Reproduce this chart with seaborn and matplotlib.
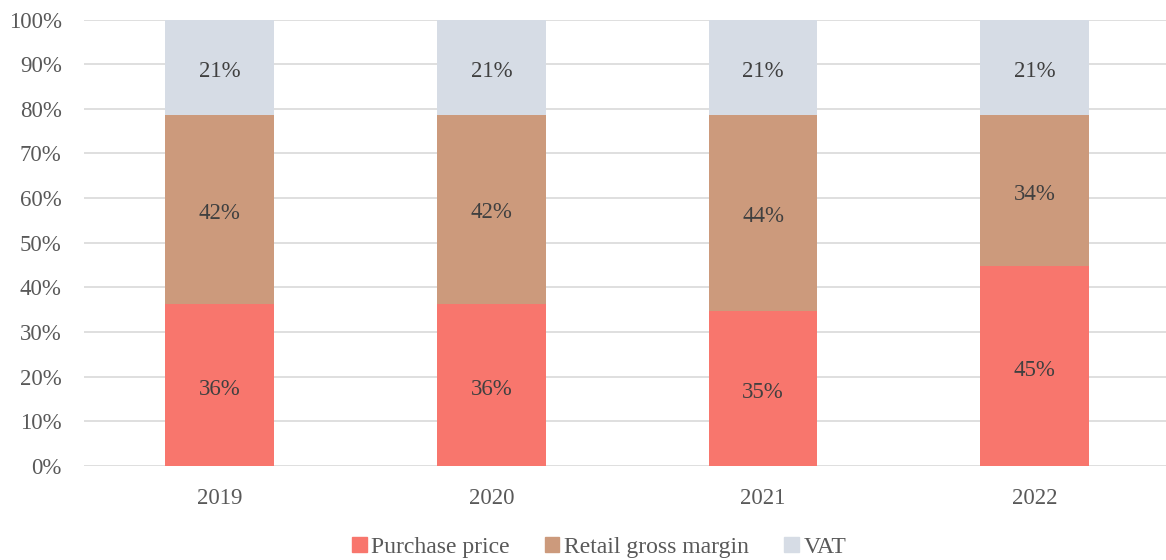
import numpy as np
import pandas as pd
import matplotlib.pyplot as plt
import seaborn as sns

years = ['2019', '2020', '2021', '2022']
purchase = [36.2, 36.3, 34.8, 44.7]
margin = [42.5, 42.4, 43.9, 34.0]
vat = [21.3, 21.3, 21.3, 21.3]

colors = {'Purchase price': '#F8766D', 'Retail gross margin': '#CC9A7C', 'VAT': '#D6DCE5'}
text_col = '#595959'

sns.set_theme(style='white')
plt.rcParams['font.family'] = ['Liberation Serif', 'DejaVu Serif']

df = pd.DataFrame({'year': years, 'purchase': purchase, 'margin': margin, 'vat': vat})
df['top_margin'] = df['purchase'] + df['margin']
df['top_vat'] = df['top_margin'] + df['vat']

fig = plt.figure(figsize=(11.66, 5.6), dpi=100)
ax = fig.add_axes([0.072, 0.168, 0.932, 0.797])

# stacked: on dessine les cumuls du plus grand au plus petit
for col, name in [('top_vat', 'VAT'), ('top_margin', 'Retail gross margin'), ('purchase', 'Purchase price')]:
    sns.barplot(data=df, x='year', y=col, color=colors[name], width=0.4,
                saturation=1, ax=ax, zorder=2, linewidth=0)

fs = 16.5
for i in range(len(years)):
    p, m, v = purchase[i], margin[i], vat[i]
    ax.text(i, p / 2 - 1, f'{p:.0f}%', ha='center', va='center', fontsize=fs, color='#404040', zorder=3)
    ax.text(i, p + m / 2 - 0.8, f'{m:.0f}%', ha='center', va='center', fontsize=fs, color='#404040', zorder=3)
    ax.text(i, p + m + v / 2 - 1, f'{v:.0f}%', ha='center', va='center', fontsize=fs, color='#404040', zorder=3)

ax.set_ylim(0, 100)
ax.set_xlim(-0.5, 3.5)
ax.set_yticks(np.arange(0, 101, 10))
ax.set_yticklabels([f'{t}%' for t in range(0, 101, 10)])
ax.yaxis.grid(True, color='#D9D9D9', linewidth=1.2, zorder=0)
ax.set_axisbelow(True)
for s in ax.spines.values():
    s.set_visible(False)
ax.tick_params(axis='both', labelsize=fs, colors=text_col, length=0)
ax.tick_params(axis='x', pad=16)
ax.tick_params(axis='y', pad=16)
ax.set_xlabel('')
ax.set_ylabel('')

handles = [plt.Rectangle((0, 0), 1, 1, color=c) for c in colors.values()]
fig.legend(handles, list(colors.keys()), loc='lower center', bbox_to_anchor=(0.514, -0.034),
           ncol=3, frameon=False, fontsize=17, handlelength=0.6, handleheight=0.6,
           handletextpad=0.2, columnspacing=1.5, labelcolor=text_col)

plt.savefig('out.png', dpi=100)
